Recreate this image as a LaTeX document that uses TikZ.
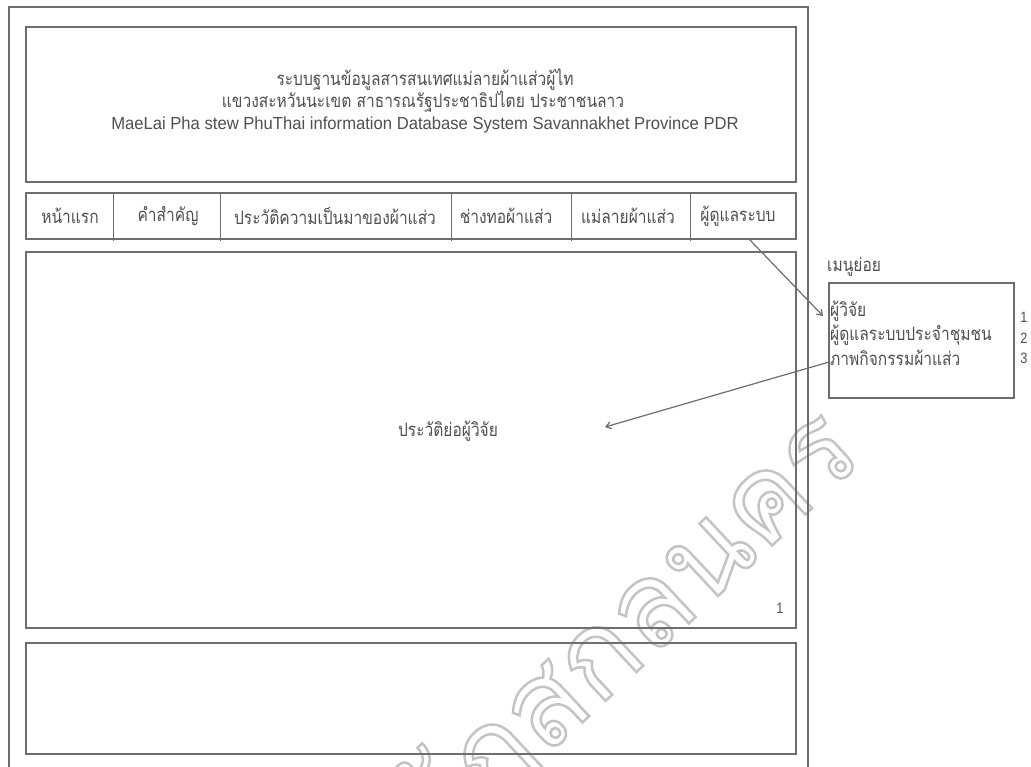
\documentclass[tikz,border=0pt]{standalone}
\usepackage{fontspec}
\setmainfont{Liberation Sans}
\newfontfamily\thai[Script=Thai,FakeStretch=0.84]{Loma}
\newfontfamily\thaiwm[Script=Thai]{Loma}
\newfontfamily\engfont[FakeStretch=0.95]{Liberation Sans}
\newfontfamily\numfont[FakeStretch=0.85]{Liberation Sans}
\usetikzlibrary{arrows.meta}
\definecolor{ln}{HTML}{6E6E6E}
\definecolor{tx}{HTML}{505050}
\definecolor{wm}{HTML}{C4C4C4}
\begin{document}
\begin{tikzpicture}[x=1pt,y=-1pt,
  box/.style={draw=ln,line width=2.2pt},
  sep/.style={draw=ln,line width=0.8pt},
  lbl/.style={text=tx,font=\thai\fontsize{18.5}{20}\selectfont,inner sep=0pt},
  eng/.style={text=tx,font=\engfont\fontsize{17.5}{20}\selectfont,inner sep=0pt},
  num/.style={text=tx,font=\numfont\fontsize{15}{17}\selectfont,inner sep=0pt},
  arr/.style={draw=ln,line width=1.2pt,-{Straight Barb[length=5pt,width=7pt]}}]
\useasboundingbox (0,0) rectangle (1031,767);
\fill[white] (0,0) rectangle (1031,767);
% watermark
\node[rotate=43,text=wm,font=\thaiwm\fontsize{118}{118}\selectfont,anchor=base east,inner sep=0pt] (wm) at (866,458) {\special{pdf:literal 1 Tr 2.5 w}ราชภัฏสกลนคร\special{pdf:literal 0 Tr}};
% outer frame
\draw[box] (9,780) -- (9,7) -- (808,7) -- (808,780);
% title box
\node[box,minimum width=770pt,minimum height=155pt,anchor=north west,inner sep=0pt] (title) at (25,26) {};
\node[lbl] (t1) at (425,80) {ระบบฐานข้อมูลสารสนเทศแม่ลายผ้าแส่วผู้ไท};
\node[lbl] (t2) at (423,102) {แขวงสะหวันนะเขต สาธารณรัฐประชาธิปไตย ประชาชนลาว};
\node[eng] (t3) at (425,125) {MaeLai Pha stew PhuThai information Database System Savannakhet Province PDR};
% nav bar
\node[box,minimum width=770pt,minimum height=46pt,anchor=north west,inner sep=0pt] (nav) at (25,192) {};
\coordinate (s1t) at (113.5,192); \coordinate (s1b) at (113.5,241);
\coordinate (s2t) at (220,192); \coordinate (s2b) at (220,241);
\coordinate (s3t) at (451,192); \coordinate (s3b) at (451,241);
\coordinate (s4t) at (571,192); \coordinate (s4b) at (571,241);
\coordinate (s5t) at (690,192); \coordinate (s5b) at (690,241);
\draw[sep] (s1t) -- (s1b);
\draw[sep] (s2t) -- (s2b);
\draw[sep] (s3t) -- (s3b);
\draw[sep] (s4t) -- (s4b);
\draw[sep] (s5t) -- (s5b);
\node[lbl] (n1) at (70,216) {หน้าแรก};
\node[lbl] (n2) at (168,216) {คำสำคัญ};
\node[lbl] (n3) at (335,216) {ประวัติความเป็นมาของผ้าแส่ว};
\node[lbl] (n4) at (506,216) {ช่างทอผ้าแส่ว};
\node[lbl] (n5) at (628,216) {แม่ลายผ้าแส่ว};
\node[lbl] (n6) at (738,216) {ผู้ดูแลระบบ};
% content
\node[box,minimum width=770pt,minimum height=376pt,anchor=north west,inner sep=0pt] (content) at (25,251) {};
\node[lbl] (bio) at (448,431) {ประวัติย่อผู้วิจัย};
\node[num] (pg) at (780,608) {1};
% footer
\node[box,minimum width=770pt,minimum height=111pt,anchor=north west,inner sep=0pt] (footer) at (25,642) {};
% submenu
\node[lbl,anchor=west] (smt) at (827,267) {เมนูย่อย};
\node[box,minimum width=185pt,minimum height=115pt,anchor=north west,inner sep=0pt] (sub) at (828,282) {};
\node[lbl,anchor=west] (m1) at (830,311) {ผู้วิจัย};
\node[lbl,anchor=west] (m2) at (830,335) {ผู้ดูแลระบบประจำชุมชน};
\node[lbl,anchor=west] (m3) at (830,358) {ภาพกิจกรรมผ้าแส่ว};
\node[num] (k1) at (1024,317) {1};
\node[num] (k2) at (1024,338) {2};
\node[num] (k3) at (1024,358) {3};
% arrows
\coordinate (a1s) at (749,239);
\coordinate (a1e) at (823,316);
\coordinate (a2s) at (829,362);
\coordinate (a2e) at (605,427);
\draw[arr] (a1s) -- (a1e);
\draw[arr] (a2s) -- (a2e);
\end{tikzpicture}
\end{document}
